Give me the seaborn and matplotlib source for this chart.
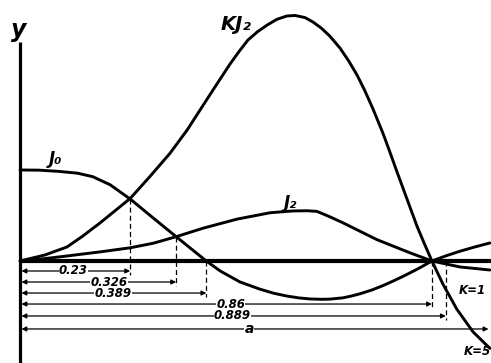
import matplotlib
matplotlib.use("Agg")
import matplotlib.pyplot as plt
import seaborn as sns

# values (x as a fraction of a, y in units of J0(0))
r_j0 = [0.0, 0.040, 0.080, 0.120, 0.152, 0.188, 0.230, 0.278, 0.326, 0.370, 0.389,
        0.418, 0.459, 0.501, 0.530, 0.557, 0.581, 0.605, 0.630, 0.647, 0.674, 0.692,
        0.710, 0.735, 0.758, 0.780, 0.800, 0.830, 0.860, 0.890, 0.919, 0.950, 0.981]
y_j0 = [1.0, 0.998, 0.985, 0.965, 0.926, 0.838, 0.681, 0.473, 0.267, 0.080, 0.0,
        -0.110, -0.230, -0.310, -0.355, -0.385, -0.405, -0.417, -0.421, -0.419, -0.405, -0.385,
        -0.360, -0.318, -0.270, -0.218, -0.168, -0.088, 0.0, 0.058, 0.108, 0.155, 0.198]

r_j2 = [0.0, 0.050, 0.098, 0.167, 0.230, 0.278, 0.326, 0.382, 0.453, 0.522, 0.570,
        0.600, 0.620, 0.645, 0.674, 0.745, 0.814, 0.860, 0.919, 0.981]
y_j2 = [0.0, 0.025, 0.055, 0.100, 0.145, 0.195, 0.267, 0.360, 0.460, 0.530, 0.550,
        0.552, 0.545, 0.490, 0.420, 0.235, 0.090, 0.0, -0.066, -0.099]

r_kj2 = [0.0, 0.052, 0.098, 0.130, 0.167, 0.230, 0.271, 0.313, 0.349, 0.376, 0.403,
         0.438, 0.457, 0.476, 0.496, 0.516, 0.536, 0.557, 0.574, 0.595, 0.612, 0.630,
         0.647, 0.668, 0.686, 0.704, 0.720, 0.737, 0.758, 0.772, 0.787, 0.808, 0.829,
         0.845, 0.860, 0.883, 0.912, 0.946, 0.981]
y_kj2 = [0.0, 0.066, 0.154, 0.270, 0.418, 0.687, 0.927, 1.183, 1.440, 1.660, 1.880,
         2.161, 2.300, 2.429, 2.520, 2.593, 2.655, 2.692, 2.698, 2.675, 2.625, 2.555,
         2.470, 2.340, 2.200, 2.040, 1.870, 1.670, 1.400, 1.200, 0.980, 0.680, 0.380,
         0.180, 0.0, -0.255, -0.530, -0.780, -0.960]

# dimension marks: value and the height where its dashed line starts
dim_values = [0.23, 0.326, 0.389, 0.86, 0.889]
dim_labels = ["0.23", "0.326", "0.389", "0.86", "0.889"]
dim_tops = [0.681, 0.267, 0.0, 0.0, 0.0]

sns.set_style("white")
plt.rcParams["font.family"] = ["DejaVu Sans"]

fig = plt.figure(figsize=(4.91, 3.63), dpi=100)
ax = fig.add_axes([0, 0, 1, 1])
ax.set_xlim(-0.0418, 0.9833)
ax.set_ylim(-1.121, 2.868)
ax.axis("off")

for xs, ys in [(r_j0, y_j0), (r_j2, y_j2), (r_kj2, y_kj2)]:
    sns.lineplot(x=xs, y=ys, color="black", lw=2.1, ax=ax)

# axes
ax.plot([0, 0.9833], [0, 0], color="black", lw=3, solid_capstyle="butt")
ax.plot([0, 0], [-1.121, 2.41], color="black", lw=2.3, solid_capstyle="butt")

txt = dict(style="italic", fontweight="bold", color="black", ha="center", va="center")

# dimension rows
row_y = [-0.110, -0.231, -0.352, -0.473, -0.604]
label_x = [0.111, 0.186, 0.194, 0.440, 0.443]
for v, lab, top, yy, lx in zip(dim_values, dim_labels, dim_tops, row_y, label_x):
    ax.plot([v, v], [top, yy - 0.045], color="black", lw=0.9, ls=(0, (4, 2.5)))
    ax.annotate("", xy=(v, yy), xytext=(0.003, yy),
                arrowprops=dict(arrowstyle="<|-|>", color="black", lw=0.9,
                                mutation_scale=7, shrinkA=0, shrinkB=0))
    ax.text(lx, yy, lab, fontsize=8.5, bbox=dict(fc="white", ec="none", pad=0.1), **txt)

# total length a
ax.annotate("", xy=(0.978, -0.747), xytext=(0.003, -0.747),
            arrowprops=dict(arrowstyle="<|-|>", color="black", lw=0.9,
                            mutation_scale=7, shrinkA=0, shrinkB=0),
            annotation_clip=False)
ax.text(0.478, -0.747, "a", fontsize=10, bbox=dict(fc="white", ec="none", pad=0.5), **txt)

# curve labels
ax.text(-0.002, 2.54, "y", fontsize=17, **txt)
ax.text(0.075, 1.12, "J₀", fontsize=12, **txt)
ax.text(0.564, 0.64, "J₂", fontsize=12, **txt)
ax.text(0.451, 2.60, "KJ₂", fontsize=14, **txt)
ax.text(0.944, -0.32, "K=1", fontsize=8.5, **txt)
ax.text(0.954, -1.0, "K=5", fontsize=8.5, **txt)

fig.savefig("out.png", dpi=100)
